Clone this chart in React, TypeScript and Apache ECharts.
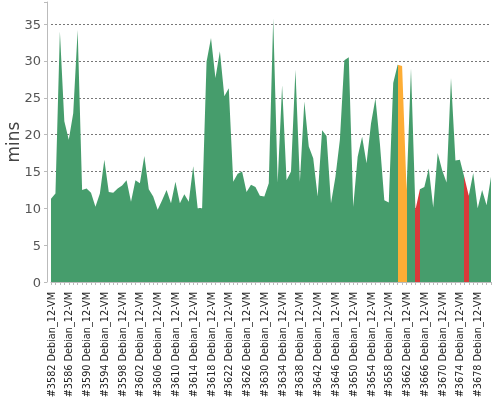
import { useEffect, useRef } from 'react'
import * as echarts from 'echarts'

// build numbers #3582 .. #3681, node label is the same for all of them
const firstBuild = 3582
const buildCount = 100
const nodeLabel = 'Debian_12-VM'

// build duration in minutes, one value per build
const durations = [
  11.3, 12.0, 34.0, 21.8, 19.3, 22.9, 34.2, 12.5, 12.7, 12.1,
  10.2, 12.0, 16.6, 12.2, 12.1, 12.7, 13.1, 13.8, 10.9, 13.8,
  13.4, 17.1, 12.6, 11.6, 9.8, 11.1, 12.5, 10.7, 13.6, 10.7,
  11.9, 10.9, 15.7, 10.0, 10.0, 29.9, 33.1, 27.7, 31.3, 25.2,
  26.3, 13.6, 14.7, 15.0, 12.2, 13.2, 12.9, 11.7, 11.6, 13.4,
  35.8, 13.5, 26.7, 13.8, 15.0, 28.8, 13.6, 24.5, 18.4, 16.8,
  11.6, 20.6, 19.8, 10.7, 14.3, 19.3, 30.1, 30.5, 10.2, 17.0,
  19.7, 16.1, 21.5, 24.9, 18.8, 11.1, 10.8, 27.0, 29.5, 29.3,
  12.5, 29.0, 9.8, 12.6, 12.9, 15.4, 10.1, 17.5, 15.2, 13.5,
  27.7, 16.5, 16.6, 14.2, 11.7, 14.8, 10.0, 12.5, 10.4, 14.3,
]

// builds that did not succeed (index into the arrays above)
const unstableBuilds = [78, 79]
const failedBuilds = [82, 93]

const yTicks = [0, 5, 10, 15, 20, 25, 30, 35]

const GREEN = '#469d6c'
const ORANGE = '#fdad35'
const RED = '#d83a3a'

const buildLabels = Array.from({ length: buildCount }, (_, i) => `#${firstBuild + i} ${nodeLabel}`)

export default function App() {
  const chartRef = useRef<HTMLDivElement>(null)

  useEffect(() => {
    if (!chartRef.current) return
    const chart = echarts.init(chartRef.current, undefined, { renderer: 'svg' })

    const pieces = [
      ...unstableBuilds.map((i) => ({ gt: i - 0.5, lte: i + 0.5, color: ORANGE })),
      ...failedBuilds.map((i) => ({ gt: i - 0.5, lte: i + 0.5, color: RED })),
    ]

    chart.setOption({
      animation: false,
      grid: { left: 51, right: 9, top: 2, bottom: 118, outerBoundsMode: 'none' },
      visualMap: {
        type: 'piecewise',
        show: false,
        dimension: 0,
        seriesIndex: 0,
        pieces,
        outOfRange: { color: GREEN },
      },
      xAxis: {
        type: 'category',
        data: buildLabels,
        boundaryGap: false,
        offset: 5,
        axisLine: { lineStyle: { color: '#bbbbbb' } },
        axisTick: { interval: 0, length: 3, lineStyle: { color: '#bbbbbb' } },
        axisLabel: {
          interval: 3,
          rotate: 90,
          margin: 5,
          fontFamily: 'DejaVu Sans',
          fontSize: 9.7,
          color: '#222222',
        },
        splitLine: { show: false },
      },
      yAxis: {
        type: 'value',
        min: 0,
        max: 38,
        interval: 5,
        offset: 4,
        name: 'mins',
        nameLocation: 'middle',
        nameGap: 26,
        nameMoveOverlap: false,
        nameTextStyle: { fontFamily: 'DejaVu Sans', fontSize: 17, color: '#444444' },
        axisLine: { show: true, lineStyle: { color: '#bbbbbb' } },
        axisTick: { show: true, length: 3, lineStyle: { color: '#bbbbbb' } },
        axisLabel: {
          margin: 6,
          fontFamily: 'DejaVu Sans',
          fontSize: 13,
          color: '#555555',
          formatter: (v: number) => (yTicks.includes(v) ? String(v) : ''),
        },
        splitLine: {
          lineStyle: {
            type: [2, 2],
            color: [...yTicks.map(() => '#777777'), 'transparent'],
          },
        },
      },
      series: [
        {
          type: 'line',
          data: durations,
          showSymbol: false,
          lineStyle: { width: 0 },
          areaStyle: { opacity: 1 },
        },
      ],
    })

    return () => chart.dispose()
  }, [])

  return (
    <div
      ref={chartRef}
      style={{ position: 'fixed', left: 0, top: 0, width: 500, height: 400 }}
    />
  )
}
